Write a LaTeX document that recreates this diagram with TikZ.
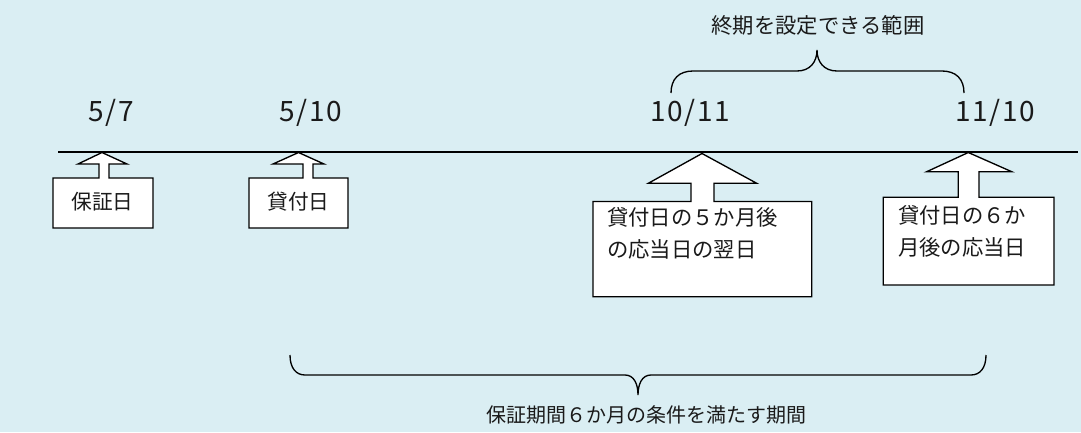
\documentclass[tikz,border=0pt]{standalone}
\usepackage{fontspec}
\setmainfont{Noto Sans CJK JP}
\newfontfamily\datefont[LetterSpace=6]{Noto Sans CJK JP}
\definecolor{bg}{HTML}{DAEEF3}
\definecolor{ink}{HTML}{1A1A1A}
\begin{document}
\begin{tikzpicture}[x=0.75pt,y=-0.75pt,
  callout/.style={draw=black,fill=white,line width=1pt,line join=miter},
  brace/.style={draw=black,line width=1pt},
  date/.style={font=\datefont\fontsize{21}{24}\selectfont,text=ink,inner sep=0pt},
  lbl/.style={font=\fontsize{16}{20}\selectfont,text=ink,inner sep=0pt,align=left},
  small/.style={font=\fontsize{15}{18}\selectfont,text=ink,inner sep=0pt}]
\fill[bg] (0,0) rectangle (1081,432);
\useasboundingbox (0,0) rectangle (1081,432);
% timeline
\coordinate (tl0) at (58,152);
\coordinate (tl1) at (1078,152);
\draw[line width=1pt] (tl0) -- (tl1);
% callout 1
\filldraw[callout] (53,178) -- (99,178) -- (99,164) -- (78,164) -- (102,152.5) -- (127,164) -- (109,164) -- (109,178) -- (153,178) -- (153,228) -- (53,228) -- cycle;
% callout 2
\filldraw[callout] (249,178) -- (303,178) -- (303,164) -- (273,164) -- (298.5,152.5) -- (324,164) -- (313,164) -- (313,178) -- (348,178) -- (348,228) -- (249,228) -- cycle;
% callout 3
\filldraw[callout] (593,201.5) -- (691,201.5) -- (691,183.3) -- (648.3,183.3) -- (702,153.5) -- (756.7,183.3) -- (714,183.3) -- (714,201.5) -- (811.7,201.5) -- (811.7,296.7) -- (593,296.7) -- cycle;
% callout 4
\filldraw[callout] (883.3,197.3) -- (958.3,197.3) -- (958.3,171.7) -- (926.7,171.7) -- (968.3,152.5) -- (1011.7,171.7) -- (979,171.7) -- (979,197.3) -- (1054,197.3) -- (1054,285) -- (883.3,285) -- cycle;
% texts in callouts
\node[small,font=\fontsize{15.5}{18}\selectfont] (hosho) at (102.5,202) {保証日};
\node[small,font=\fontsize{15.5}{18}\selectfont] (kashi) at (298.5,202) {貸付日};
\node[lbl,anchor=west] (five) at (607,233.5) {貸付日の５か月後\\[4pt]の応当日の翌日};
\node[lbl,anchor=west] (six) at (898,231) {貸付日の６か\\[4pt]月後の応当日};
% dates
\node[date] (d1) at (111.5,113) {5/7};
\node[date] (d2) at (310.5,113) {5/10};
\node[date] (d3) at (690,113) {10/11};
\node[date] (d4) at (995,113) {11/10};
% top brace
\coordinate (tb0) at (671,93);
\coordinate (tbt) at (817,50);
\coordinate (tb1) at (964,93);
\draw[brace] (tb0) .. controls (671,79) and (679,71) .. (693,71) -- (797,71) .. controls (810,71) and (817,62) .. (tbt)
  .. controls (817,62) and (824,71) .. (837,71) -- (942,71) .. controls (956,71) and (964,79) .. (tb1);
\node[lbl] (range) at (818,25) {終期を設定できる範囲};
% bottom brace
\coordinate (bb0) at (290,355);
\coordinate (bbt) at (638,395);
\coordinate (bb1) at (986,355);
\draw[brace] (bb0) .. controls (290,368) and (296,375) .. (305,375) -- (625,375) .. controls (634,375) and (638,384) .. (bbt)
  .. controls (638,384) and (642,375) .. (651,375) -- (971,375) .. controls (980,375) and (986,368) .. (bb1);
\node[small] (period) at (646,415) {保証期間６か月の条件を満たす期間};
\end{tikzpicture}
\end{document}
